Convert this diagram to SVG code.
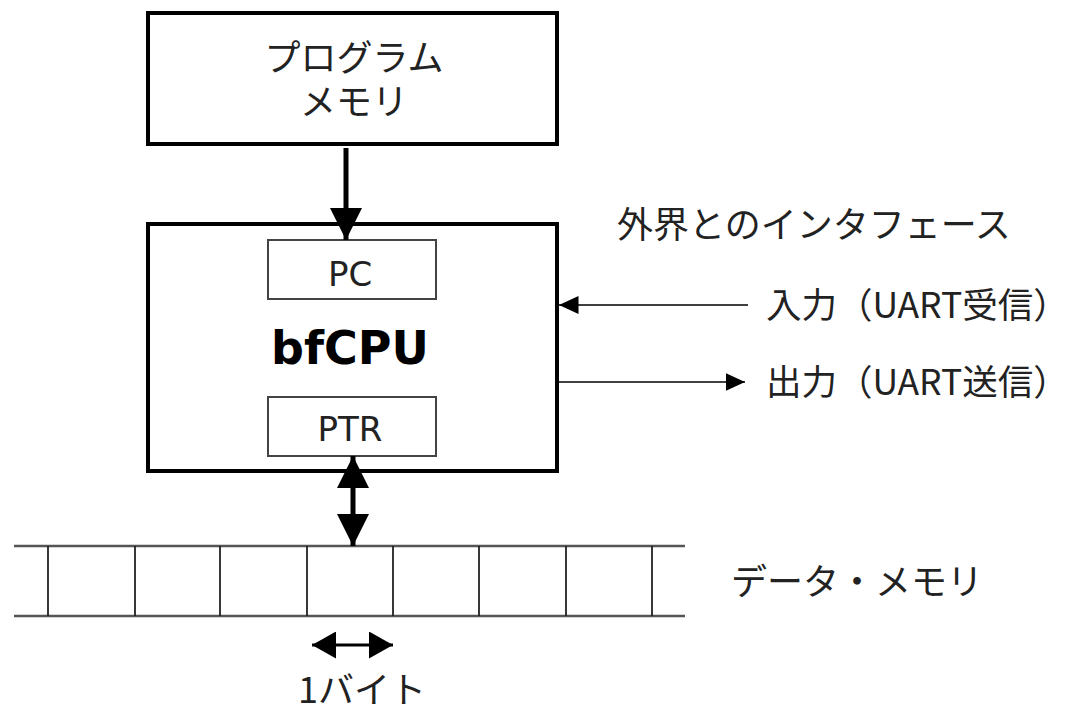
<svg xmlns="http://www.w3.org/2000/svg" width="1067" height="715" viewBox="0 0 1067 715">
<style>
.box{fill:#fff;stroke:#000;stroke-width:4}
.reg{fill:#fff;stroke:#444;stroke-width:2}
.jp{font-family:"Noto Sans CJK JP","Noto Sans",sans-serif;font-size:36px;fill:#222}
.io{font-size:35.5px}
.lat{font-family:"DejaVu Sans",sans-serif;font-size:34px;fill:#222}
.thick{stroke:#000;stroke-width:5;fill:none}
.thin{stroke:#000;stroke-width:1.5;fill:none}
.mem{stroke:#555;stroke-width:2.5;fill:none}
.cell{stroke:#222;stroke-width:1.8;fill:none}
</style>
<defs>
<marker id="bigHead" viewBox="0 0 10 10" refX="10" refY="5" markerWidth="6.4" markerHeight="6.4" markerUnits="strokeWidth" orient="auto-start-reverse"><path d="M0,0 L10,5 L0,10 z" fill="#000"/></marker>
<marker id="smallHead" viewBox="0 0 10 10" refX="10" refY="5" markerWidth="13" markerHeight="12" markerUnits="strokeWidth" orient="auto-start-reverse" preserveAspectRatio="none"><path d="M0,0 L10,5 L0,10 z" fill="#000"/></marker>
<marker id="byteHead" viewBox="0 0 10 10" refX="10" refY="5" markerWidth="8" markerHeight="9" markerUnits="strokeWidth" orient="auto-start-reverse" preserveAspectRatio="none"><path d="M0,0 L10,5 L0,10 z" fill="#000"/></marker>
</defs>
<rect width="1067" height="715" fill="#fff"/>
<g id="program-memory">
<rect class="box" x="148" y="13" width="409" height="131"/>
<text class="jp" text-anchor="middle" font-size="35"><tspan x="354" y="71">プログラム</tspan><tspan x="354" y="115">メモリ</tspan></text>
</g>
<g id="cpu">
<rect class="box" x="148" y="224" width="409" height="247"/>
<text x="350" y="364" text-anchor="middle" font-family="DejaVu Sans,sans-serif" font-weight="bold" font-size="46" fill="#000">bfCPU</text>
</g>
<g id="pc">
<rect class="reg" x="268" y="240" width="168" height="59"/>
<text class="lat" x="350" y="286" text-anchor="middle">PC</text>
</g>
<g id="ptr">
<rect class="reg" x="268" y="397" width="168" height="59"/>
<text class="lat" x="350" y="441" text-anchor="middle">PTR</text>
</g>
<g id="interface-label">
<text class="jp" x="617" y="238">外界とのインタフェース</text>
</g>
<g id="input-label">
<text class="jp io" x="766" y="318">入力（UART受信）</text>
</g>
<g id="output-label">
<text class="jp io" x="766" y="395">出力（UART送信）</text>
</g>
<g id="data-memory">
<line class="mem" x1="14" y1="546" x2="685" y2="546"/>
<line class="mem" x1="14" y1="616" x2="685" y2="616"/>
<line class="cell" x1="48" y1="546" x2="48" y2="616"/>
<line class="cell" x1="135" y1="546" x2="135" y2="616"/>
<line class="cell" x1="220" y1="546" x2="220" y2="616"/>
<line class="cell" x1="307" y1="546" x2="307" y2="616"/>
<line class="cell" x1="393" y1="546" x2="393" y2="616"/>
<line class="cell" x1="479" y1="546" x2="479" y2="616"/>
<line class="cell" x1="566" y1="546" x2="566" y2="616"/>
<line class="cell" x1="652" y1="546" x2="652" y2="616"/>
<text class="jp" x="731" y="595">データ・メモリ</text>
</g>
<g id="byte-label">
<text class="jp" x="298" y="703" font-size="32">1バイト</text>
</g>
<g id="connectors">
<line class="thick" x1="346" y1="148" x2="346" y2="240" marker-end="url(#bigHead)"/>
<line class="thick" x1="353" y1="456" x2="353" y2="546" marker-start="url(#bigHead)" marker-end="url(#bigHead)"/>
<line class="thin" x1="748" y1="305" x2="559" y2="305" marker-end="url(#smallHead)"/>
<line class="thin" x1="559" y1="382" x2="745" y2="382" marker-end="url(#smallHead)"/>
<line stroke="#000" stroke-width="3" x1="312" y1="645" x2="393" y2="645" marker-start="url(#byteHead)" marker-end="url(#byteHead)"/>
</g>
</svg>
